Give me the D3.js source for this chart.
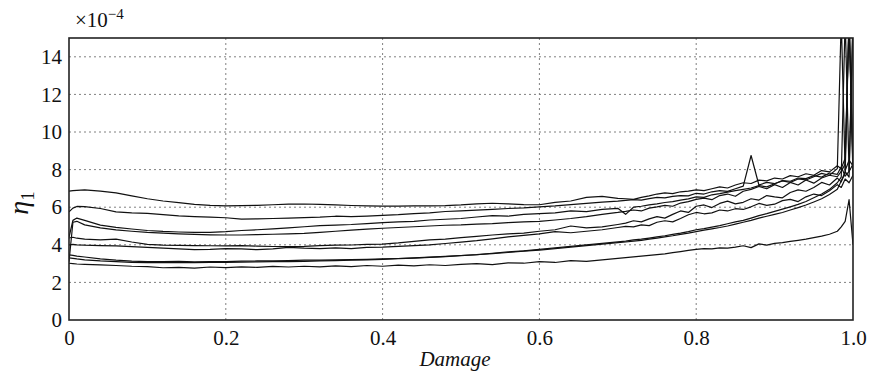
<!DOCTYPE html>
<html>
<head>
<meta charset="utf-8">
<script src="https://cdn.jsdelivr.net/npm/d3@7"></script>
<style>
    body { margin: 0; background: #fff; }
    svg text { font-family: 'Liberation Serif', 'DejaVu Serif', serif; }
</style>
</head>
<body>
<div class="chart__container"></div>
<script>
// damage values shared by every curve
const damage = [0, 0.005, 0.01, 0.02, 0.04, 0.06, 0.08,
    0.10, 0.12, 0.14, 0.16, 0.18, 0.20, 0.22, 0.24, 0.26, 0.28, 0.30, 0.32, 0.34, 0.36, 0.38, 0.40,
    0.42, 0.44, 0.46, 0.48, 0.50, 0.52, 0.54, 0.56, 0.58, 0.60, 0.62, 0.64, 0.66, 0.68, 0.70,
    0.71, 0.72, 0.73, 0.74, 0.75, 0.76, 0.77, 0.78, 0.79, 0.80, 0.81, 0.82, 0.83, 0.84, 0.85,
    0.86, 0.87, 0.88, 0.89, 0.90, 0.91, 0.92, 0.93, 0.94, 0.95, 0.96, 0.97, 0.98,
    0.985, 0.99, 0.995, 1.0];

// eta_1 (x 1e-4) for each specimen
const seriesA = [6.85, 6.88, 6.90, 6.92, 6.85, 6.76, 6.60,
    6.45, 6.33, 6.24, 6.15, 6.10, 6.07, 6.08, 6.10, 6.13, 6.16, 6.17, 6.15, 6.12, 6.09, 6.07, 6.06,
    6.06, 6.07, 6.07, 6.08, 6.12, 6.18, 6.21, 6.18, 6.14, 6.13, 6.26, 6.33, 6.52, 6.58, 6.47,
    6.45, 6.42, 6.52, 6.60, 6.70, 6.76, 6.72, 6.82, 6.86, 6.92, 6.88, 6.98, 7.08, 7.02, 7.18,
    7.30, 7.26, 7.44, 7.40, 7.55, 7.50, 7.68, 7.62, 7.78, 7.70, 7.95, 7.88, 8.20,
    8.05, 8.60, 16.0, 8.4];
const seriesB = [5.75, 5.95, 6.04, 6.03, 5.93, 5.75, 5.70,
    5.67, 5.60, 5.54, 5.50, 5.47, 5.44, 5.37, 5.38, 5.40, 5.42, 5.45, 5.47, 5.52, 5.50, 5.53, 5.57,
    5.60, 5.66, 5.70, 5.77, 5.80, 5.84, 5.88, 5.93, 5.96, 6.02, 6.07, 6.14, 6.20, 6.27, 6.32,
    6.36, 6.40, 6.38, 6.46, 6.52, 6.50, 6.58, 6.62, 6.60, 6.74, 6.70, 6.82, 6.88, 6.84, 6.98,
    7.12, 8.75, 7.18, 7.32, 7.25, 7.42, 7.38, 7.55, 7.52, 7.68, 7.60, 7.82, 7.75,
    8.15, 7.65, 7.90, 16.0];
const seriesC = [4.40, 5.30, 5.42, 5.30, 5.05, 4.93, 4.84,
    4.76, 4.71, 4.68, 4.66, 4.66, 4.70, 4.76, 4.80, 4.85, 4.90, 4.96, 5.02, 5.05, 5.08, 5.13, 5.18,
    5.22, 5.25, 5.32, 5.36, 5.40, 5.48, 5.55, 5.52, 5.62, 5.66, 5.70, 5.80, 5.76, 5.88, 5.94,
    5.62, 6.00, 6.05, 6.12, 6.18, 6.25, 6.30, 6.38, 6.44, 6.55, 6.52, 6.66, 6.72, 6.80, 6.88,
    6.95, 7.02, 7.15, 7.08, 7.25, 7.40, 7.32, 7.50, 7.45, 7.62, 7.80, 7.70, 8.05,
    16.0, 7.95, 8.50, 8.2];
const seriesD = [3.10, 5.20, 5.25, 5.06, 4.90, 4.79, 4.72,
    4.66, 4.62, 4.58, 4.55, 4.53, 4.52, 4.52, 4.54, 4.56, 4.58, 4.61, 4.66, 4.72, 4.78, 4.83, 4.88,
    4.92, 4.96, 5.00, 5.04, 5.06, 5.10, 5.13, 5.18, 5.22, 5.25, 5.32, 5.40, 5.50, 5.62, 5.72,
    5.78, 5.85, 5.80, 5.95, 6.02, 6.10, 6.05, 6.22, 6.30, 6.42, 6.48, 6.40, 6.62, 6.70, 6.58,
    6.85, 6.95, 7.10, 6.98, 7.20, 7.05, 7.32, 7.18, 7.45, 7.28, 7.55, 7.70, 7.62,
    7.90, 8.30, 16.0, 8.0];
const seriesE = [4.36, 4.40, 4.35, 4.30, 4.26, 4.30, 4.15,
    4.02, 3.98, 3.97, 3.96, 3.95, 3.94, 3.96, 3.93, 3.91, 3.90, 3.92, 3.96, 3.98, 3.99, 4.02, 4.04,
    4.10, 4.18, 4.26, 4.30, 4.38, 4.45, 4.52, 4.58, 4.62, 4.72, 4.80, 5.00, 4.90, 4.95, 5.08,
    5.15, 5.28, 5.22, 5.38, 5.50, 5.42, 5.62, 5.80, 5.72, 6.05, 6.12, 5.98, 6.20, 6.32, 6.18,
    6.26, 6.45, 6.38, 6.62, 6.55, 6.50, 6.78, 6.92, 6.85, 7.05, 7.32, 7.18, 7.55,
    7.35, 7.90, 7.60, 16.0];
const seriesF = [3.99, 4.02, 4.00, 3.98, 3.96, 3.94, 3.90,
    3.86, 3.82, 3.78, 3.74, 3.76, 3.80, 3.78, 3.74, 3.78, 3.86, 3.82, 3.80, 3.84, 3.80, 3.86, 3.88,
    3.92, 3.96, 4.00, 4.07, 4.14, 4.22, 4.32, 4.42, 4.50, 4.58, 4.70, 4.64, 4.72, 4.80, 4.92,
    4.98, 4.95, 5.06, 5.02, 5.20, 5.28, 5.22, 5.40, 5.60, 5.72, 5.65, 5.70, 5.85, 5.80, 5.92,
    5.88, 6.02, 6.20, 6.10, 6.16, 6.35, 6.42, 6.30, 6.55, 6.70, 6.62, 6.88, 7.20,
    7.05, 7.50, 7.30, 7.7];
const seriesG = [3.46, 3.44, 3.40, 3.35, 3.25, 3.18, 3.13,
    3.10, 3.10, 3.12, 3.09, 3.10, 3.11, 3.13, 3.14, 3.15, 3.16, 3.18, 3.19, 3.20, 3.21, 3.23, 3.25,
    3.27, 3.30, 3.34, 3.38, 3.43, 3.48, 3.55, 3.62, 3.68, 3.76, 3.84, 3.92, 4.00, 4.08, 4.16,
    4.20, 4.26, 4.30, 4.36, 4.42, 4.48, 4.55, 4.62, 4.70, 4.80, 4.86, 4.94, 5.02, 5.12, 5.22,
    5.30, 5.42, 5.55, 5.66, 5.78, 5.90, 6.02, 6.15, 6.30, 6.50, 6.70, 6.95, 7.30,
    7.60, 16.0, 7.9, 8.3];
const seriesH = [3.30, 3.28, 3.25, 3.20, 3.14, 3.10, 3.07,
    3.05, 3.05, 3.06, 3.05, 3.06, 3.07, 3.08, 3.09, 3.10, 3.11, 3.12, 3.14, 3.16, 3.18, 3.20, 3.23,
    3.26, 3.29, 3.33, 3.37, 3.42, 3.47, 3.53, 3.59, 3.66, 3.72, 3.80, 3.88, 3.96, 4.04, 4.12,
    4.15, 4.20, 4.24, 4.30, 4.36, 4.42, 4.48, 4.55, 4.62, 4.70, 4.78, 4.85, 4.92, 5.00, 5.10,
    5.20, 5.30, 5.42, 5.52, 5.62, 5.72, 5.85, 5.98, 6.12, 6.28, 6.45, 6.68, 6.95,
    7.40, 7.80, 16.0, 7.6];
const seriesI = [3.02, 3.00, 2.98, 2.96, 2.93, 2.90, 2.86,
    2.84, 2.78, 2.80, 2.76, 2.82, 2.79, 2.83, 2.80, 2.85, 2.82, 2.86, 2.83, 2.88, 2.84, 2.90, 2.86,
    2.92, 2.88, 2.94, 2.90, 2.96, 3.00, 2.95, 3.04, 3.02, 3.10, 3.06, 3.16, 3.12, 3.20, 3.28,
    3.32, 3.36, 3.40, 3.44, 3.48, 3.52, 3.58, 3.64, 3.70, 3.76, 3.80, 3.78, 3.84, 3.82, 3.88,
    3.95, 3.85, 4.05, 3.98, 4.08, 4.12, 4.18, 4.24, 4.30, 4.38, 4.46, 4.56, 4.72,
    4.95, 5.25, 6.40, 4.0];

const yTicks = [0, 2, 4, 6, 8, 10, 12, 14];
const xTicks = [0, 0.2, 0.4, 0.6, 0.8, 1.0];
const xTickLabels = ['0', '0.2', '0.4', '0.6', '0.8', '1.0'];

function whenDocumentLoaded(action) {
    if (document.readyState === "loading") {
        document.addEventListener("DOMContentLoaded", action);
    } else {
        action();
    }
}

function drawChart() {
    const chart = {
        width: 870,
        height: 371,
        margin: {top: 38, right: 17, bottom: 51, left: 69},
        yMax: 15,
        font: "'Liberation Serif', 'DejaVu Serif', serif"
    };
    const allSeries = [seriesA, seriesB, seriesC, seriesD, seriesE, seriesF, seriesG, seriesH, seriesI];

    const svg = d3.select(".chart__container")
        .append("svg")
        .attr("width", chart.width)
        .attr("height", chart.height)
        .attr("font-family", chart.font);

    const left = chart.margin.left,
        right = chart.width - chart.margin.right,
        top = chart.margin.top,
        bottom = chart.height - chart.margin.bottom;

    const x = d3.scaleLinear().domain([0, 1]).range([left, right]);
    const y = d3.scaleLinear().domain([0, chart.yMax]).range([bottom, top]);

    // dotted grid
    svg.append("g")
        .selectAll("line")
        .data(yTicks.filter(d => d > 0))
        .enter()
        .append("line")
        .attr("x1", left).attr("x2", right)
        .attr("y1", d => y(d)).attr("y2", d => y(d))
        .attr("stroke", "#808080")
        .attr("stroke-width", 1)
        .attr("stroke-dasharray", "2 3");

    svg.append("g")
        .selectAll("line")
        .data(xTicks.filter(d => d > 0 && d < 1))
        .enter()
        .append("line")
        .attr("x1", d => x(d)).attr("x2", d => x(d))
        .attr("y1", top).attr("y2", bottom)
        .attr("stroke", "#808080")
        .attr("stroke-width", 1)
        .attr("stroke-dasharray", "2 3");

    // curves, clipped to the plot box
    svg.append("clipPath")
        .attr("id", "plot-clip")
        .append("rect")
        .attr("x", left).attr("y", top)
        .attr("width", right - left).attr("height", bottom - top);

    const line = d3.line()
        .x((d, i) => x(damage[i]))
        .y(d => y(d));

    svg.append("g")
        .attr("clip-path", "url(#plot-clip)")
        .selectAll("path")
        .data(allSeries)
        .enter()
        .append("path")
        .attr("d", line)
        .attr("fill", "none")
        .attr("stroke", "#111")
        .attr("stroke-width", 1.2)
        .attr("stroke-linejoin", "round");

    // frame
    svg.append("rect")
        .attr("x", left).attr("y", top)
        .attr("width", right - left).attr("height", bottom - top)
        .attr("fill", "none")
        .attr("stroke", "#222")
        .attr("stroke-width", 1.6);

    // axes (labels only)
    const yAxis = svg.append("g")
        .attr("transform", "translate(" + left + ",0)")
        .call(d3.axisLeft(y).tickValues(yTicks).tickSize(0).tickPadding(7));
    const xAxis = svg.append("g")
        .attr("transform", "translate(0," + bottom + ")")
        .call(d3.axisBottom(x).tickValues(xTicks).tickSize(0).tickPadding(10)
            .tickFormat((d, i) => xTickLabels[i]));

    [yAxis, xAxis].forEach(function(axis) {
        axis.attr("font-family", chart.font).attr("font-size", 21);
        axis.select(".domain").remove();
        axis.selectAll("text")
            .style("font-family", chart.font)
            .style("font-size", "21px")
            .attr("fill", "#111");
    });

    // x label
    svg.append("text")
        .attr("x", (left + right) / 2 - 6)
        .attr("y", 366)
        .attr("text-anchor", "middle")
        .style("font-family", chart.font)
        .style("font-style", "italic")
        .style("font-size", "21px")
        .attr("fill", "#111")
        .text("Damage");

    // y label  eta_1
    const yLabel = svg.append("text")
        .attr("transform", "translate(28,203) rotate(-90)")
        .attr("text-anchor", "middle")
        .style("font-family", chart.font)
        .style("font-size", "28px")
        .attr("fill", "#111");
    yLabel.append("tspan").style("font-style", "italic").text("η");
    yLabel.append("tspan").attr("dy", 6).style("font-size", "19px").text("1");

    // exponent multiplier
    const mult = svg.append("text")
        .attr("x", 75)
        .attr("y", 27)
        .style("font-family", chart.font)
        .style("font-size", "21px")
        .attr("fill", "#111");
    mult.append("tspan").text("×10");
    mult.append("tspan").attr("dy", -8).style("font-size", "15px").text("−4");
}

whenDocumentLoaded(() => {
    drawChart();
});
</script>
</body>
</html>
